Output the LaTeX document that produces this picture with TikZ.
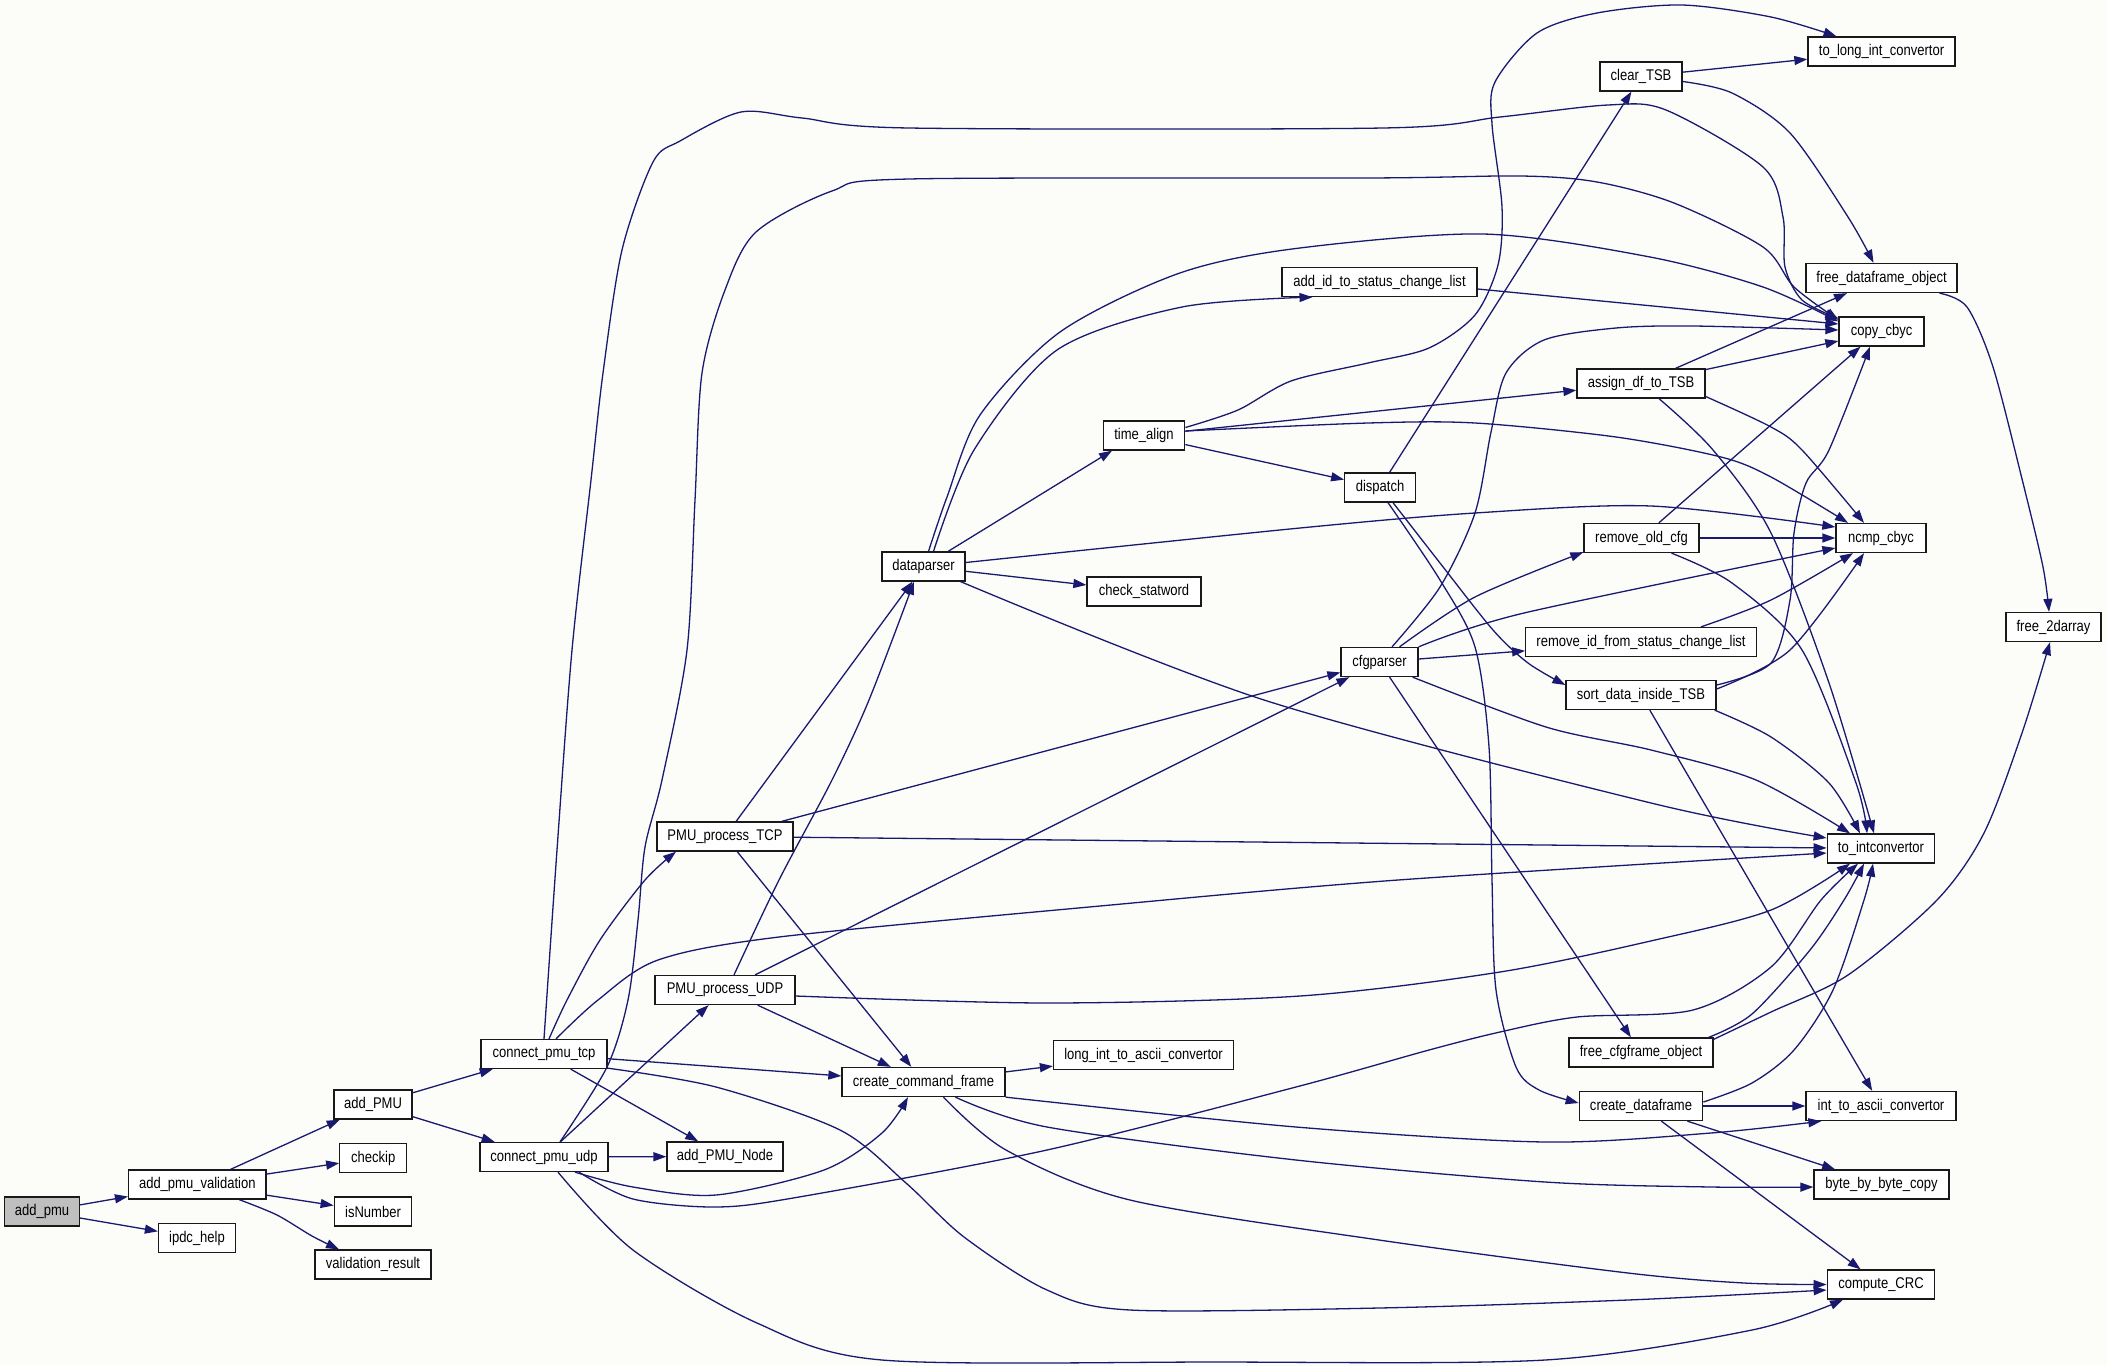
\documentclass[tikz,border=0pt]{standalone}
\usepackage{fontspec}
\setmainfont{Liberation Sans}[FakeStretch=0.84]
\usetikzlibrary{arrows.meta,calc}
\definecolor{edgeblue}{HTML}{191970}
\definecolor{bgc}{HTML}{FCFDF8}
\definecolor{grayfill}{HTML}{BFBFBF}
\begin{document}
\begin{tikzpicture}[x=1pt,y=-1pt,
  fn/.style={draw=black!90, line width=1.3pt, fill=white, minimum height=29pt, inner sep=0pt, font=\fontsize{15.5}{17}\selectfont},
  ed/.style={draw=edgeblue, line width=1.3pt, -{Triangle[length=13pt,width=9pt]}}]
\fill[bgc] (0,0) rectangle (2107,1366);
\useasboundingbox (0,0) rectangle (2107,1366);

% nodes
\node[fn, fill=grayfill, minimum width=75pt] (addpmu) at (42,1211.5) {add\_pmu};
\node[fn, minimum width=137.4pt] (apv) at (197.3,1184.5) {add\_pmu\_validation};
\node[fn, minimum width=77pt] (ipdc) at (197,1238) {ipdc\_help};
\node[fn, minimum width=78pt] (addPMU) at (373,1104.5) {add\_PMU};
\node[fn, minimum width=67pt] (checkip) at (373.3,1158) {checkip};
\node[fn, minimum width=77.5pt] (isnum) at (373,1211.5) {isNumber};
\node[fn, minimum width=116pt] (valres) at (373,1264.5) {validation\_result};
\node[fn, minimum width=126pt] (tcp) at (544,1054) {connect\_pmu\_tcp};
\node[fn, minimum width=128pt] (udp) at (544,1157) {connect\_pmu\_udp};
\node[fn, minimum width=116pt] (pmunode) at (725,1156.5) {add\_PMU\_Node};
\node[fn, minimum width=136pt] (ptcp) at (725,836.5) {PMU\_process\_TCP};
\node[fn, minimum width=140pt] (pudp) at (725,990) {PMU\_process\_UDP};
\node[fn, minimum width=163pt] (ccf) at (923.5,1082) {create\_command\_frame};
\node[fn, minimum width=180pt] (litoa) at (1143.5,1055) {long\_int\_to\_ascii\_convertor};
\node[fn, minimum width=83pt] (dp) at (923.5,566.5) {dataparser};
\node[fn, minimum width=114pt] (csw) at (1144,591.5) {check\_statword};
\node[fn, minimum width=81.5pt] (ta) at (1144,435.5) {time\_align};
\node[fn, minimum width=195pt] (addid) at (1379.5,282) {add\_id\_to\_status\_change\_list};
\node[fn, minimum width=70.5pt] (disp) at (1380,487.5) {dispatch};
\node[fn, minimum width=77pt] (cfg) at (1379.5,662) {cfgparser};
\node[fn, minimum width=82pt] (clear) at (1641,76.5) {clear\_TSB};
\node[fn, minimum width=128pt] (assign) at (1641,383.5) {assign\_df\_to\_TSB};
\node[fn, minimum width=115pt] (rmold) at (1641.5,538) {remove\_old\_cfg};
\node[fn, minimum width=230.5pt] (rmid) at (1641,642) {remove\_id\_from\_status\_change\_list};
\node[fn, minimum width=150pt] (sort) at (1641,695) {sort\_data\_inside\_TSB};
\node[fn, minimum width=144pt] (fcfg) at (1641,1052.5) {free\_cfgframe\_object};
\node[fn, minimum width=123.5pt] (cdf) at (1641,1106) {create\_dataframe};
\node[fn, minimum width=147pt] (tlic) at (1881.5,51.5) {to\_long\_int\_convertor};
\node[fn, minimum width=151pt] (fdo) at (1881.5,278) {free\_dataframe\_object};
\node[fn, minimum width=85pt] (copy) at (1881.5,331.5) {copy\_cbyc};
\node[fn, minimum width=90pt] (ncmp) at (1881,538) {ncmp\_cbyc};
\node[fn, minimum width=107.5pt] (toint) at (1881,848.5) {to\_intconvertor};
\node[fn, minimum width=150pt] (itoa) at (1881,1106) {int\_to\_ascii\_convertor};
\node[fn, minimum width=135pt] (bbb) at (1881.5,1184.5) {byte\_by\_byte\_copy};
\node[fn, minimum width=107.5pt] (crc) at (1881,1284.5) {compute\_CRC};
\node[fn, minimum width=95pt] (f2d) at (2053.5,627) {free\_2darray};

% straight edges
\draw[ed] (addpmu) -- (apv);
\draw[ed] (addpmu) -- (ipdc);
\draw[ed] (apv) -- (addPMU);
\draw[ed] (apv) -- (checkip);
\draw[ed] (apv) -- (isnum);
\draw[ed] (addPMU) -- (tcp);
\draw[ed] (addPMU) -- (udp);
\draw[ed] (tcp) -- (pmunode);
\draw[ed] (udp) -- (pmunode);
\draw[ed] (tcp) -- (ccf);
\draw[ed] (udp) -- (pudp);
\draw[ed] (ptcp) -- (dp);
\draw[ed] (ptcp) -- (cfg);
\draw[ed] (ptcp) -- (toint);
\draw[ed] (ptcp) -- (ccf);
\draw[ed] (pudp) -- (ccf);
\draw[ed] (pudp) -- (cfg);
\draw[ed] (ccf) -- (litoa);
\draw[ed] (dp) -- (csw);
\draw[ed] (dp) -- ([xshift=-32pt]ta.south);
\draw[ed] (ta) -- (disp);
\draw[ed] (ta) -- (assign);
\draw[ed] (disp) -- (clear);
\draw[ed] (clear) -- (tlic);
\draw[ed] ([yshift=-7pt]addid.east) -- ([yshift=7.5pt]copy.west);
\draw[ed] (assign) -- (fdo);
\draw[ed] (assign) -- ([yshift=-9.5pt]copy.west);
\draw[ed] (rmold) -- (ncmp);
\draw[ed] (rmold) -- ([xshift=-21pt]copy.south);
\draw[ed] (cfg) -- (rmid);
\draw[ed] (cfg) -- (fcfg);
\draw[ed] (sort) -- (itoa);
\draw[ed] (cdf) -- (itoa);
\draw[ed] (cdf) -- (bbb);
\draw[ed] (cdf) -- (crc);

% curved edges
\draw[ed] plot[smooth] coordinates {([xshift=42pt]apv.south) (277,1215) (312,1236) ([xshift=-34pt]valres.north)};
\draw[ed] plot[smooth] coordinates {([xshift=5pt]tcp.north) (567,1000) (600,940) (645,880) ([xshift=-49pt]ptcp.south)};
\draw[ed] plot[smooth] coordinates {([xshift=12pt]tcp.north) (598,1000) (658,960) (779,937) (1100,906) (1398,880) ([yshift=-4.5pt]toint.west)};
\draw[ed] plot[smooth] coordinates {(tcp.north) (557,850) (572,650) (591,480) (603,373) (622,250) (653,162) (680,141) (741,112) (802,118) (909,128) (1383,128) (1500,117) (1608,105) (1666,110) (1763,167) (1783,217) (1785,267) (1802,300) ($(copy.north west)+(0,2)$)};
\draw[ed] plot[smooth] coordinates {([xshift=16pt]udp.north) (607,1067) (628,1000) (638,920) (645,847) (662,780) (687,650) (695,500) (702,373) (725,290) (756,232) (832,191) (909,179) (1368,178) (1521,176) (1597,182) (1674,203) (1763,247) (1794,287) ($(copy.north west)+(0,3.5)$)};
\draw[ed] plot[smooth] coordinates {([xshift=5pt]dp.north) (947,497) (980,415) (1060,332) (1177,274) (1292,249) (1483,234) (1650,257) (1763,287) ([yshift=10pt]copy.west)};
\draw[ed] plot[smooth] coordinates {([xshift=10pt]dp.north) (974,450) (1057,350) (1182,307) ([xshift=-67pt]addid.south)};
\draw[ed] plot[smooth] coordinates {([yshift=4pt]dp.east) (1300,528) (1475,513) (1651,506) ([yshift=11pt]ncmp.west)};
\draw[ed] plot[smooth] coordinates {([xshift=-5pt]dp.south east) (1264,700) (1651,803) ([yshift=10.5pt]toint.west)};
\draw[ed] plot[smooth] coordinates {([xshift=9pt]pudp.north) (779,880) (832,780) (869,700) ([xshift=-9.5pt]dp.south)};
\draw[ed] plot[smooth] coordinates {([yshift=8pt]ta.east) (1238,410) (1291,381) (1368,363) (1429,348) (1475,315) (1498,265) (1502,207) (1492,124) (1495,82) (1537,33) (1597,13) (1682,5) (1771,17) ([xshift=-45pt]tlic.north)};
\draw[ed] plot[smooth] coordinates {([yshift=4.5pt]ta.east) (1368,423) (1475,423) (1616,437) (1721,457) (1771,477) ([xshift=-33pt]ncmp.north)};
\draw[ed] plot[smooth] coordinates {([yshift=-13pt]assign.east) (1771,427) (1802,450) ([xshift=-17pt]ncmp.north)};
\draw[ed] plot[smooth] coordinates {([xshift=18pt]assign.south) (1713,450) (1771,533) (1829,683) ([xshift=-7pt]toint.north)};
\draw[ed] plot[smooth] coordinates {([yshift=-5pt]clear.east) (1732,93) (1790,133) (1848,217) ([xshift=-8pt]fdo.north)};
\draw[ed] plot[smooth] coordinates {([xshift=58pt]fdo.south) (1967,307) (1993,367) (2023,483) (2043,567) ([xshift=-4.5pt]f2d.north)};
\draw[ed] plot[smooth] coordinates {($(fcfg.north east)+(0,2)$) (1771,1012) (1848,975) (1937,900) (1984,833) (2022,733) ([xshift=-3.5pt]f2d.south)};
\draw[ed] plot[smooth] coordinates {($(fcfg.north east)+(-5,0)$) (1752,1014) (1810,950) (1844,900) ([xshift=-17pt]toint.south)};
\draw[ed] plot[smooth] coordinates {([yshift=4pt]cdf.east) (1752,1083) (1794,1050) (1833,990) (1864,900) ([xshift=-8pt]toint.south)};
\draw[ed] plot[smooth] coordinates {([yshift=-6pt]pudp.east) (1046,1003) (1300,996) (1500,972) (1655,940) (1771,910) ([xshift=-31pt]toint.south)};
\draw[ed] plot[smooth] coordinates {([xshift=35pt]udp.south) (633,1199) (716,1207) (799,1197) (1047,1150) (1296,1087) (1429,1050) (1500,1032) (1577,1017) (1693,1010) (1771,967) (1821,900) ([xshift=-23pt]toint.south)};
\draw[ed] plot[smooth] coordinates {([xshift=31pt]udp.south) (633,1187) (716,1195) (824,1170) (882,1133) ([xshift=-15.5pt]ccf.south)};
\draw[ed] plot[smooth] coordinates {([xshift=14pt]udp.south) (633,1250) (757,1323) (882,1360) (1213,1362) (1545,1360) (1752,1330) ([xshift=-38pt]crc.south)};
\draw[ed] plot[smooth] coordinates {($(tcp.south east)+(0,-1)$) (716,1087) (840,1130) (906,1183) (964,1237) (1047,1290) (1130,1310) (1379,1308) (1628,1300) ([yshift=-5.5pt]crc.west)};
\draw[ed] plot[smooth] coordinates {([xshift=20pt]ccf.south) (1006,1150) (1130,1200) (1379,1240) (1628,1273) (1744,1283) (crc.west)};
\draw[ed] plot[smooth] coordinates {([xshift=32pt]ccf.south) (1047,1127) (1296,1160) (1545,1182) (1711,1187) ([yshift=-2.5pt]bbb.west)};
\draw[ed] plot[smooth] coordinates {(ccf.south east) (1296,1127) (1545,1142) (1711,1133) ($(itoa.south west)+(16,0)$)};
\draw[ed] plot[smooth] coordinates {([xshift=12.5pt]cfg.north) (1440,587) (1475,513) (1491,432) (1506,373) (1544,340) (1616,328) (1693,326) ([yshift=1.5pt]copy.west)};
\draw[ed] plot[smooth] coordinates {([xshift=20pt]cfg.north) (1475,597) ($(rmold.south west)+(0,-1)$)};
\draw[ed] plot[smooth] coordinates {(cfg.north east) (1524,613) ([yshift=-10pt]ncmp.west)};
\draw[ed] plot[smooth] coordinates {([xshift=-6pt]cfg.south east) (1546,727) (1651,750) (1756,780) ([xshift=-31pt]toint.north)};
\draw[ed] plot[smooth] coordinates {([xshift=13pt]disp.south) (1440,563) (1493,630) (1528,663) ([yshift=10pt]sort.west)};
\draw[ed] plot[smooth] coordinates {([xshift=8pt]disp.south) (1440,580) (1475,647) (1489,747) (1492,880) (1496,990) (1516,1067) (1539,1090) ([yshift=3pt]cdf.west)};
\draw[ed] plot[smooth] coordinates {([yshift=10pt]sort.east) (1771,663) (1790,600) (1794,533) (1806,483) (1829,450) ([xshift=-11.5pt]copy.south)};
\draw[ed] plot[smooth] coordinates {([yshift=6pt]sort.east) (1790,650) ([xshift=-17pt]ncmp.south)};
\draw[ed] plot[smooth] coordinates {($(sort.south east)+(-2,0)$) (1771,737) (1829,783) ([xshift=-21pt]toint.north)};
\draw[ed] plot[smooth] coordinates {([xshift=30pt]rmold.south) (1732,583) (1802,650) (1856,783) ([xshift=-14pt]toint.north)};
\draw[ed] plot[smooth] coordinates {([xshift=60pt]rmid.north) (1771,600) ([xshift=-28pt]ncmp.south)};
\end{tikzpicture}
\end{document}
